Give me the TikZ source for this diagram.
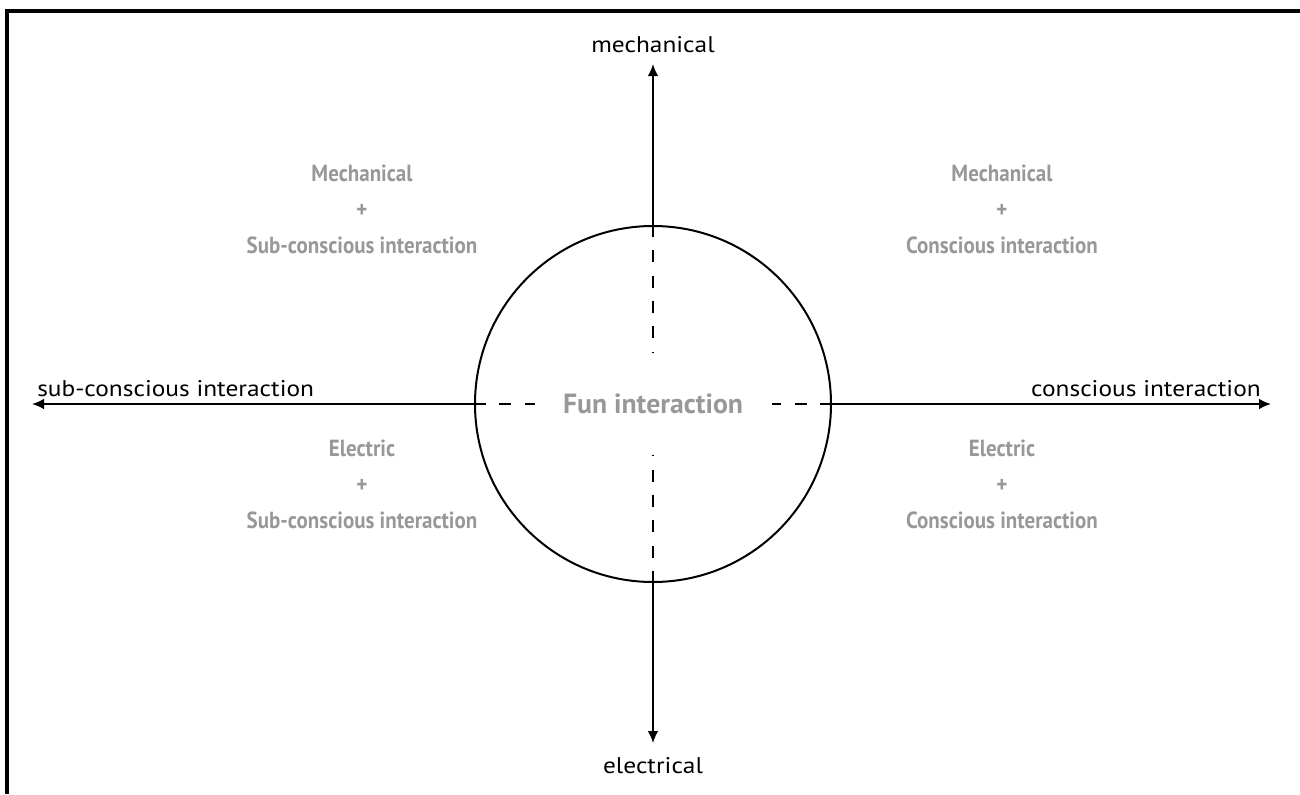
\documentclass[tikz,border=0pt]{standalone}
\usepackage{fontspec}
\setmainfont{PT Sans}
\newfontfamily\axisfont[FakeStretch=1.12]{PT Sans}
\newfontfamily\quadfont[FakeStretch=0.9]{PT Sans}
\definecolor{labelgray}{RGB}{152,152,152}
\usetikzlibrary{arrows.meta,positioning}

\tikzset{
  axis/.style={line width=1.3pt,-{Latex[length=9pt,width=8pt]}},
  split/.style={line width=1.3pt,dash pattern=on 9pt off 10pt},
  axislabel/.style={inner sep=0pt,font=\axisfont\fontsize{17}{20}\selectfont},
  quadrant/.style={text=labelgray,align=center,inner sep=0pt,
    font=\quadfont\fontsize{17.5}{27}\selectfont\bfseries},
}

\begin{document}
\begin{tikzpicture}[x=0.75pt,y=-0.75pt]
  \useasboundingbox (0,0) rectangle (1300,794);
  % open frame, top and left only
  \draw[line width=2.4pt] (7,794) -- (7,11) -- (1300,11);

  % centre circle
  \node[circle,draw,line width=1.5pt,minimum size=267pt,inner sep=0pt,
        text=labelgray,font=\fontsize{20.8}{24}\selectfont\bfseries]
    (fun) at (653,404) {Fun interaction};

  % axis ends
  \coordinate (topend) at (653,64);
  \coordinate (botend) at (653,743);
  \coordinate (leftend) at (32,404);
  \coordinate (rightend) at (1271,404);
  \draw[axis] (fun.north) -- (topend);
  \draw[axis] (fun.south) -- (botend);
  \draw[axis] (fun.west) -- (leftend);
  \draw[axis] (fun.east) -- (rightend);

  % dashed parts inside the circle
  \coordinate (topin) at (653,352);
  \coordinate (botin) at (653,455);
  \coordinate (leftin) at (535,404);
  \coordinate (rightin) at (772,404);
  \draw[split] (fun.north) -- (topin);
  \draw[split] (fun.south) -- (botin);
  \draw[split] (fun.west) -- (leftin);
  \draw[split] (fun.east) -- (rightin);

  % axis labels
  \node[axislabel,anchor=south] (mech) at (653,53) {mechanical};
  \node[axislabel,anchor=north] (elec) at (653,757) {electrical};
  \node[axislabel,anchor=south west] (subc) at (37,397) {sub-conscious interaction};
  \node[axislabel,anchor=south east] (consc) at (1261,397) {conscious interaction};

  % quadrants
  \node[quadrant] (mechsub) at (362,209) {Mechanical\\+\\Sub-conscious interaction};
  \node[quadrant] (mechcon) at (1002,209) {Mechanical\\+\\Conscious interaction};
  \node[quadrant] (elecsub) at (362,484) {Electric\\+\\Sub-conscious interaction};
  \node[quadrant] (eleccon) at (1002,484) {Electric\\+\\Conscious interaction};
\end{tikzpicture}
\end{document}
